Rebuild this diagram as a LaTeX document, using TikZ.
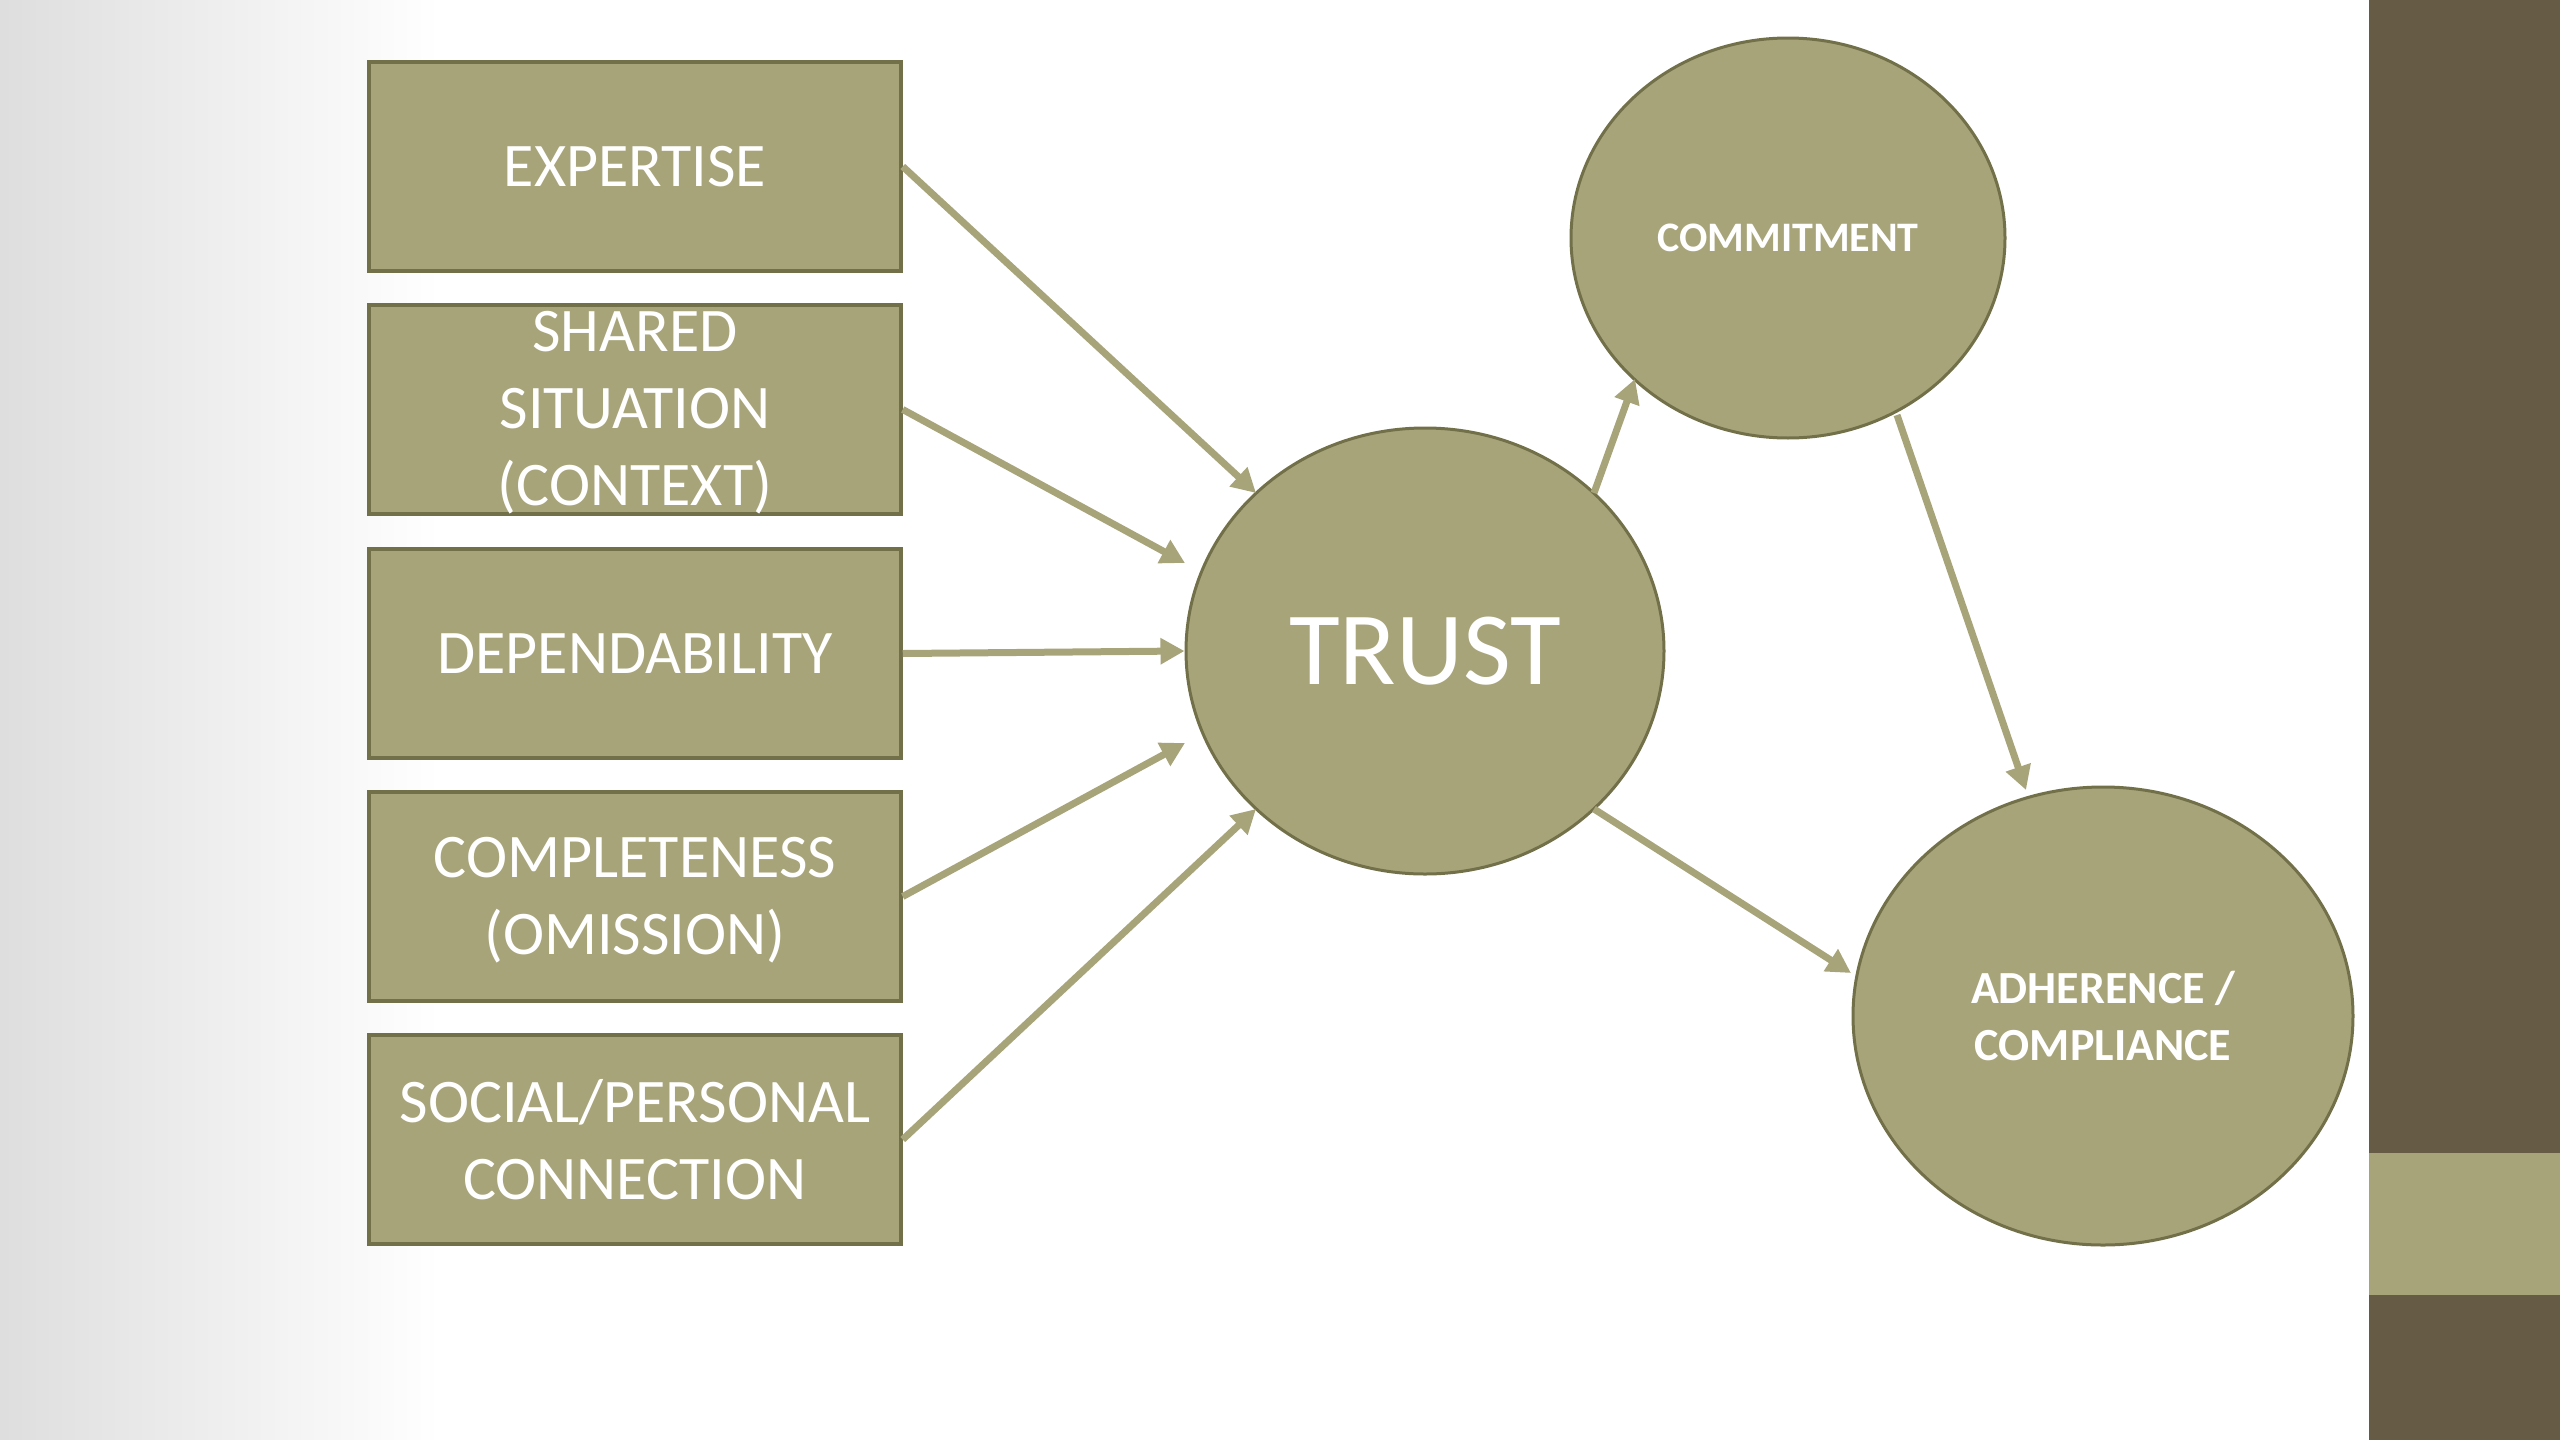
\documentclass[tikz,border=0pt]{standalone}
\usepackage{fontspec}
\setmainfont{Carlito}
\usetikzlibrary{shapes.geometric,arrows.meta,calc}
\definecolor{khaki}{HTML}{A8A47A}
\definecolor{khakiline}{HTML}{727049}
\definecolor{bardark}{HTML}{665C45}
\begin{document}
\begin{tikzpicture}[x=1pt,y=-1pt,
  factor/.style={draw=khakiline, line width=3.5pt, fill=khaki, minimum width=532pt, minimum height=209pt, inner sep=0pt, text=white, align=center, font=\fontsize{62}{77}\selectfont},
  bubble/.style={ellipse, draw=khakiline, line width=3pt, fill=khaki, inner sep=0pt, text=white, align=center},
  link/.style={draw=khaki, line width=7pt, -{Triangle[length=24pt,width=25pt]}}
]
\useasboundingbox (0,0) rectangle (2560,1440);
\fill[white] (0,0) rectangle (2369,1440);
\shade[left color=black!13, middle color=black!4, right color=white] (0,0) rectangle (440,1440);
\fill[bardark] (2369,0) rectangle (2560,1440);
\fill[khaki] (2369,1153) rectangle (2560,1295);

\node[factor] (f1) at (635,166.5) {EXPERTISE};
\node[factor, text depth=2pt] (f2) at (635,409.5) {SHARED\\SITUATION\\(CONTEXT)};
\node[factor] (f3) at (635,653.5) {DEPENDABILITY};
\node[factor, text depth=2pt] (f4) at (635,896.5) {COMPLETENESS\\(OMISSION)};
\node[factor] (f5) at (635,1139.5) {SOCIAL/PERSONAL\\CONNECTION};

\node[bubble, minimum width=478pt, minimum height=446pt, font=\fontsize{104}{125}\selectfont] (trust) at (1425,651) {TRUST};
\node[bubble, minimum width=434pt, minimum height=400pt, font=\bfseries\fontsize{42}{57}\selectfont] (commit) at (1788,238) {COMMITMENT};
\node[bubble, minimum width=500pt, minimum height=458pt, font=\bfseries\fontsize{46}{57}\selectfont] (adh) at (2103,1016) {ADHERENCE /\\COMPLIANCE};

\coordinate (t1) at ($(trust.center)+(-169,-158)$);
\coordinate (t2) at ($(trust.center)+(-240,-88)$);
\coordinate (t4) at ($(trust.center)+(-240,92)$);
\coordinate (t5) at ($(trust.center)+(-169,158)$);
\coordinate (t6) at ($(trust.center)+(169,-158)$);
\coordinate (t8) at ($(trust.center)+(169,158)$);
\coordinate (c1) at ($(commit.center)+(-153,141)$);
\coordinate (c2) at ($(commit.center)+(109,177)$);
\coordinate (a1) at ($(adh.center)+(-77,-226)$);
\coordinate (a2) at ($(adh.center)+(-252,-43)$);

\draw[link] (f1.east) -- (t1);
\draw[link] (f2.east) -- (t2);
\draw[link] (f3.east) -- (trust.west);
\draw[link] (f4.east) -- (t4);
\draw[link] (f5.east) -- (t5);
\draw[link] (t6) -- (c1);
\draw[link] (c2) -- (a1);
\draw[link] (t8) -- (a2);
\end{tikzpicture}
\end{document}
